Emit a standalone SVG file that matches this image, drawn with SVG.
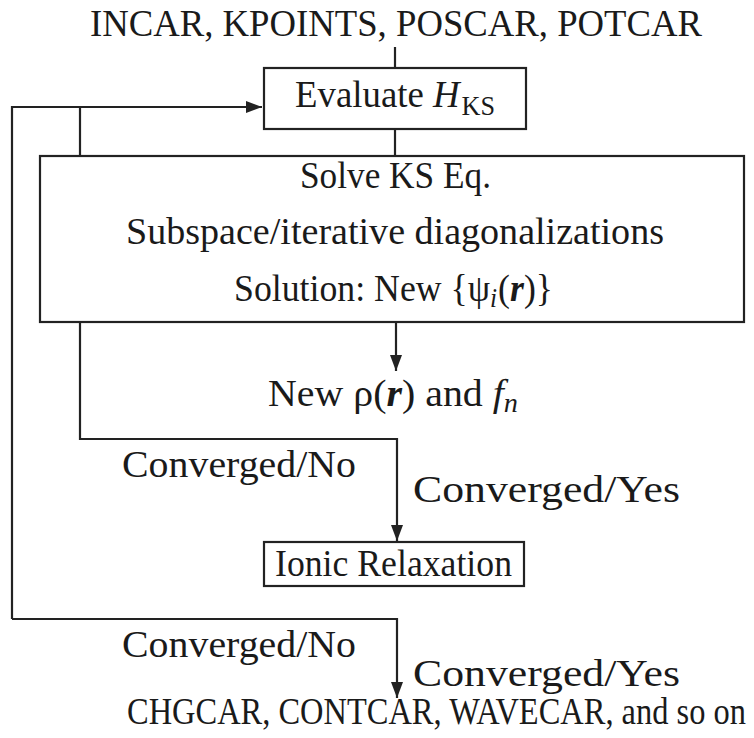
<svg xmlns="http://www.w3.org/2000/svg" width="754" height="738" viewBox="0 0 754 738">
<defs>
<style>
.t{font-family:"Liberation Serif","Times New Roman",serif;font-size:38px;fill:#1a1a1a}
.box{fill:#fff;stroke:#222;stroke-width:2.2}
.ln{fill:none;stroke:#222;stroke-width:2.2}
.it{font-style:italic}
.sub{font-size:27px}
</style>
<marker id="ah" markerUnits="userSpaceOnUse" markerWidth="18" markerHeight="12" refX="16" refY="6" orient="auto">
<path d="M0,0 L16,6 L0,12 Z" fill="#222"/>
</marker>
</defs>
<rect width="754" height="738" fill="#fff"/>
<g id="connectors">
<path class="ln" d="M395,47 V68"/>
<path class="ln" d="M395,129 V156"/>
<path class="ln" d="M80,156 V107"/>
<path class="ln" d="M12,619 V107 H262" marker-end="url(#ah)"/>
<path class="ln" d="M396,322 V371" marker-end="url(#ah)"/>
<path class="ln" d="M80,322 V439 H397 V541" marker-end="url(#ah)"/>
<path class="ln" d="M12,619 H397 V698" marker-end="url(#ah)"/>
</g>
<g id="input">
<text class="t" x="90" y="36" textLength="612" lengthAdjust="spacingAndGlyphs">INCAR, KPOINTS, POSCAR, POTCAR</text>
</g>
<g id="evaluate">
<rect class="box" x="264" y="68" width="262" height="61"/>
<text class="t" x="295" y="107" textLength="200" lengthAdjust="spacingAndGlyphs">Evaluate <tspan class="it">H</tspan><tspan class="sub" dx="2" dy="8">KS</tspan></text>
</g>
<g id="solve">
<rect class="box" x="40" y="156" width="704" height="166"/>
<text class="t" x="300" y="188" textLength="191" lengthAdjust="spacingAndGlyphs">Solve KS Eq.</text>
<text class="t" x="126" y="244" textLength="538" lengthAdjust="spacingAndGlyphs">Subspace/iterative diagonalizations</text>
<text class="t" x="234" y="301" textLength="319" lengthAdjust="spacingAndGlyphs">Solution: New {ψ<tspan class="it sub" dy="6">i</tspan><tspan dx="1" dy="-6">(</tspan><tspan class="it" font-weight="bold">r</tspan>)}</text>
</g>
<g id="density">
<text class="t" x="268" y="406" textLength="250" lengthAdjust="spacingAndGlyphs">New ρ(<tspan class="it" font-weight="bold">r</tspan>) and <tspan class="it">f</tspan><tspan class="it sub" dy="6">n</tspan></text>
</g>
<g id="labels1">
<text class="t" x="122" y="477" textLength="234" lengthAdjust="spacingAndGlyphs">Converged/No</text>
<text class="t" x="413" y="502" textLength="267" lengthAdjust="spacingAndGlyphs">Converged/Yes</text>
</g>
<g id="ionic">
<rect class="box" x="264" y="542" width="260" height="44"/>
<text class="t" x="275" y="576" textLength="237" lengthAdjust="spacingAndGlyphs">Ionic Relaxation</text>
</g>
<g id="labels2">
<text class="t" x="122" y="657" textLength="234" lengthAdjust="spacingAndGlyphs">Converged/No</text>
<text class="t" x="413" y="686" textLength="267" lengthAdjust="spacingAndGlyphs">Converged/Yes</text>
</g>
<g id="output">
<text class="t" x="127" y="724" textLength="619" lengthAdjust="spacingAndGlyphs">CHGCAR, CONTCAR, WAVECAR, and so on</text>
</g>
</svg>
